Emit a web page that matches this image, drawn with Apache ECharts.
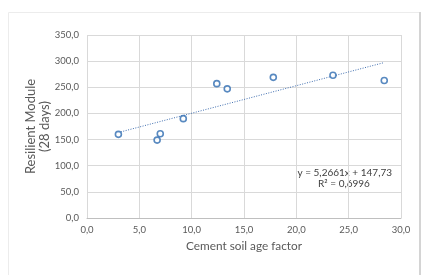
<!DOCTYPE html>
<html>
<head>
<meta charset="utf-8" />
<title>Resilient Module</title>
<script src="https://cdn.jsdelivr.net/npm/echarts@6/dist/echarts.min.js"></script>
<style>
  html, body { margin: 0; padding: 0; background: #fff; }
  #main { width: 424px; height: 275px; }
</style>
</head>
<body>
<div id="main"></div>
<script>
// measured points (cement soil age factor, resilient module at 28 days)
const ageFactor = [3.0, 6.7, 7.0, 9.2, 12.4, 13.4, 17.8, 23.5, 28.4];
const resModule = [160, 149, 161, 190, 257, 247, 269, 273, 263];
// linear trend line ends
const trendX = [3.0, 28.4];
const trendY = [163.5, 297.3];
const trendLabel = ['y = 5,2661x + 147,73', 'R² = 0,6996'];

const font = 'Lato, "Open Sans", sans-serif';
const fmt = v => v.toFixed(1).replace('.', ',');

let myChart = echarts.init(document.getElementById('main'));
let option = {
    animation: false,
    backgroundColor: '#fff',
    grid: { left: 87, right: 23, top: 35, bottom: 57 },
    xAxis: {
        type: 'value',
        min: 0, max: 30, interval: 5,
        name: 'Cement soil age factor',
        nameLocation: 'middle',
        nameGap: 21,
        nameTextStyle: { color: '#595959', fontSize: 11.8, fontFamily: font },
        axisLine: { show: true, lineStyle: { color: '#bfbfbf' } },
        axisTick: { show: false },
        axisLabel: { color: '#595959', fontSize: 9.5, fontFamily: font, formatter: fmt, margin: 7 },
        splitLine: { show: true, lineStyle: { color: '#d9d9d9' } }
    },
    yAxis: {
        type: 'value',
        min: 0, max: 350, interval: 50,
        name: 'Resilient Module\n(28 days)',
        nameLocation: 'middle',
        nameRotate: 90,
        nameGap: 35,
        nameMoveOverlap: false,
        nameTextStyle: { color: '#595959', fontSize: 13, fontFamily: font, lineHeight: 14 },
        axisLine: { show: false },
        axisTick: { show: false },
        axisLabel: { color: '#595959', fontSize: 9.5, fontFamily: font, formatter: fmt, margin: 8 },
        splitLine: { show: true, lineStyle: { color: '#d9d9d9' } }
    },
    series: [
        {
            type: 'line',
            data: trendX.map((x, i) => [x, trendY[i]]),
            showSymbol: false,
            lineStyle: { color: '#3f6eb0', width: 1, type: [1, 1.5] },
            z: 1
        },
        {
            type: 'scatter',
            data: ageFactor.map((x, i) => [x, resModule[i]]),
            symbol: 'circle',
            symbolSize: 6,
            itemStyle: { color: '#fff', borderColor: '#2e6bb0', borderWidth: 1.6 },
            z: 3
        }
    ],
    graphic: [
        { type: 'rect', shape: { x: 8.5, y: 12.5, width: 411, height: 280 },
          style: { fill: null, stroke: '#ececec', lineWidth: 1 }, silent: true },
        { type: 'rect', shape: { x: 419, y: 12, width: 2, height: 263 },
          style: { fill: '#d4d4d4' }, silent: true },
        { type: 'text', x: 392, y: 173, style: { text: trendLabel[0], align: 'right', verticalAlign: 'middle',
          fill: '#404040', font: '10px ' + font } },
        { type: 'text', x: 344, y: 184, style: { text: trendLabel[1], align: 'center', verticalAlign: 'middle',
          fill: '#404040', font: '10px ' + font } }
    ]
};
myChart.setOption(option);
</script>
</body>
</html>
